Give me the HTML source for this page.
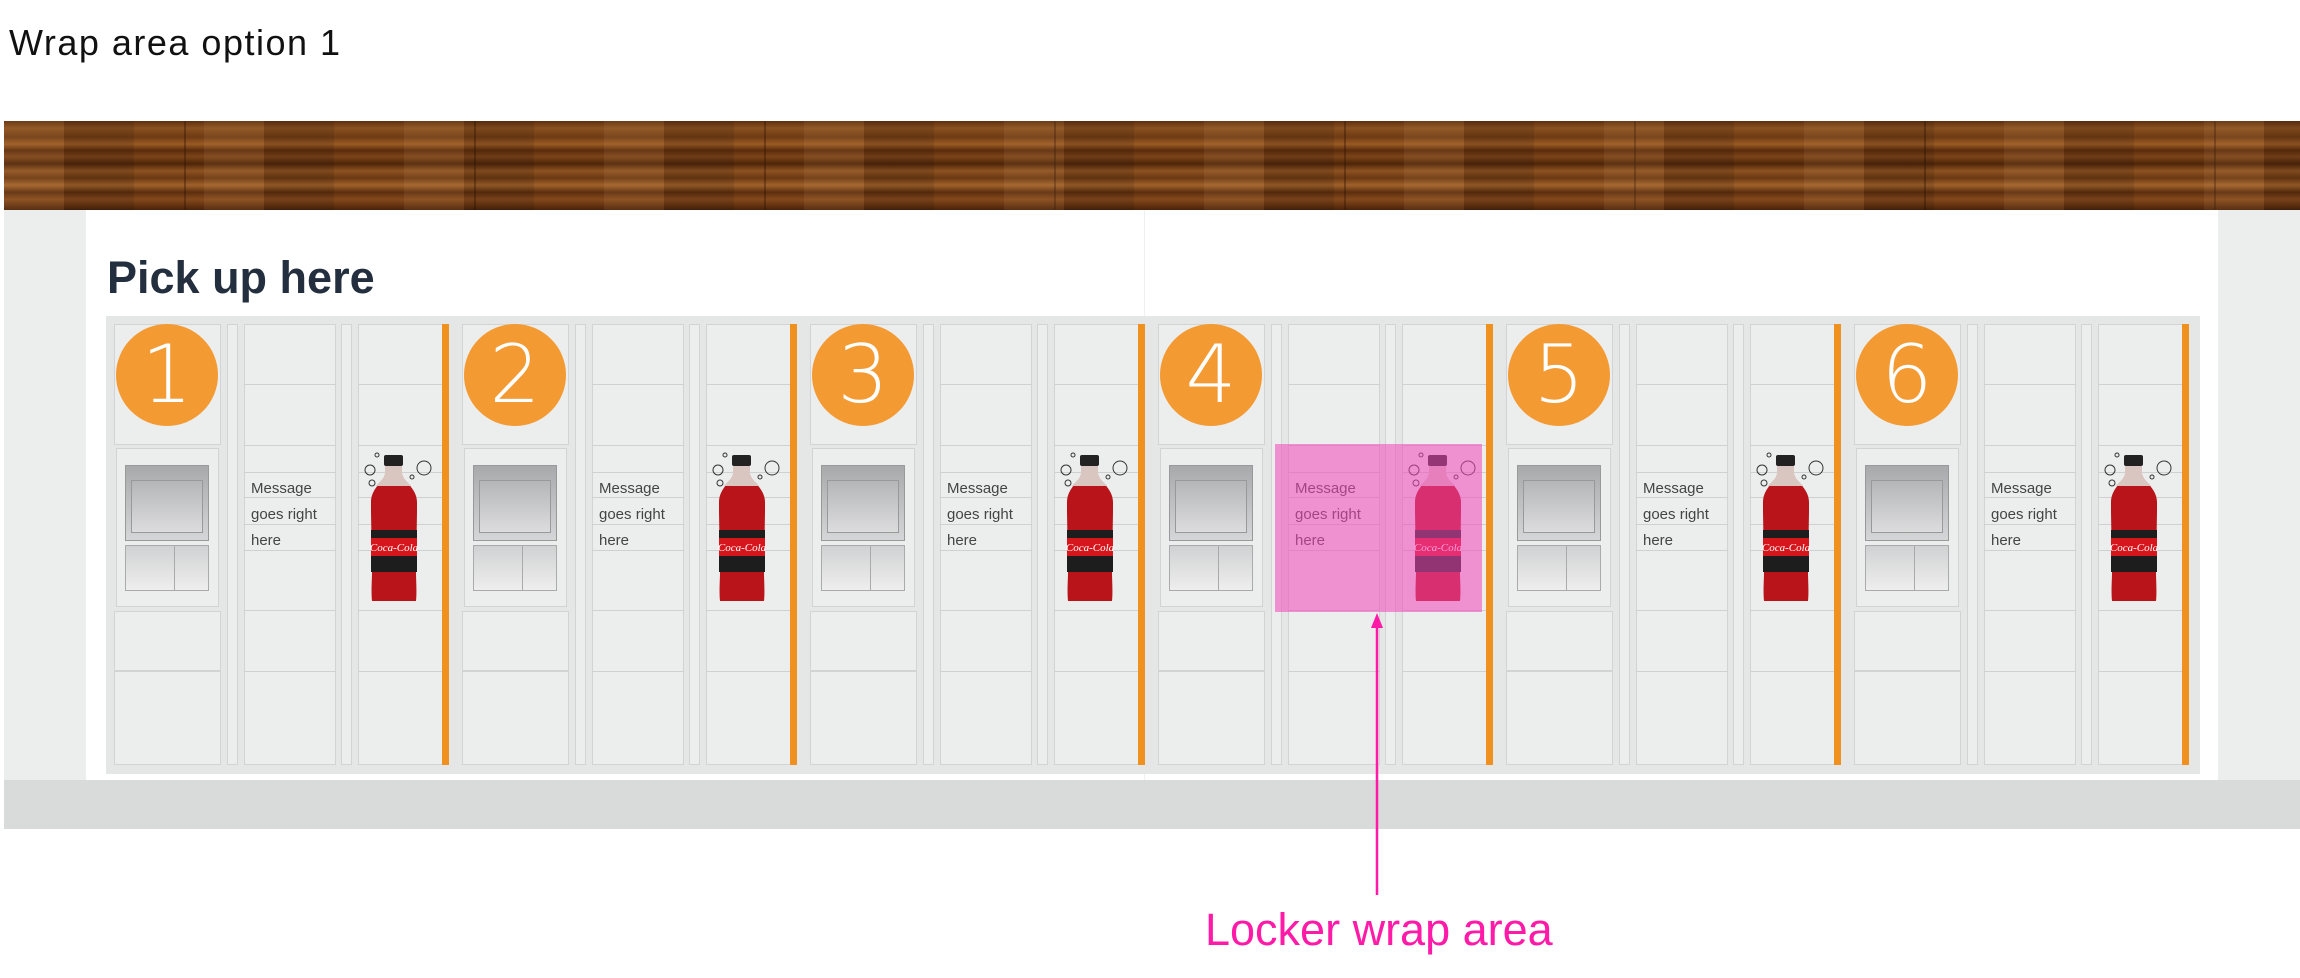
<!DOCTYPE html>
<html><head><meta charset="utf-8"><style>
body{margin:0;width:2300px;height:978px;position:relative;background:#fff;overflow:hidden;font-family:"Liberation Sans",sans-serif}
.a{position:absolute;box-sizing:border-box}
.m{position:absolute;top:0;width:340px;height:800px}
.bx{position:absolute;box-sizing:border-box;border:1.5px solid #d2d4d3;background:#eceeed}
.ln{position:absolute;height:0;border-top:1.5px solid #cfd1d0}
.ob{position:absolute;left:328px;top:324px;width:7px;height:441px;background:#f0911f}
.c{position:absolute;left:2px;top:324px;width:102px;height:102px;border-radius:50%;background:#f39a33;color:#fff;font-size:80px;line-height:102px;text-align:center;font-family:"DejaVu Sans","Liberation Sans",sans-serif;font-weight:200}
.msg{position:absolute;left:137px;font-size:15px;color:#444;line-height:26px;top:476px}
</style></head><body>
<div class="a" style="left:9px;top:22px;font-size:36px;color:#111;letter-spacing:1.5px">Wrap area option 1</div>
<div class="a" style="left:4px;top:210px;width:2296px;height:572px;background:#eceeed"></div>
<div class="a" style="left:86px;top:210px;width:2132px;height:572px;background:#fff"></div>
<div class="a" style="left:1144px;top:210px;width:1px;height:572px;background:#f0f0f0"></div>
<div class="a" style="left:4px;top:780px;width:2296px;height:49px;background:#d9dbda"></div>
<div class="a" style="left:4px;top:121px;width:2296px;height:89px;background:
repeating-linear-gradient(90deg,rgba(0,0,0,0) 0 180px,rgba(40,15,0,.35) 180px 182px,rgba(0,0,0,0) 182px 290px),
linear-gradient(180deg,#5e3010 0,#8a501f 8%,#6e3b14 18%,#9a5a24 26%,#5a2c0c 33%,#7c4418 40%,#4e250a 48%,#8d5220 56%,#6a3812 64%,#a0612a 72%,#5c2e0e 80%,#84491b 88%,#4a2208 100%)"></div>
<div class="a" style="left:4px;top:121px;width:2296px;height:89px;background:repeating-linear-gradient(90deg,rgba(255,200,140,.08) 0 60px,rgba(0,0,0,.1) 60px 130px,rgba(0,0,0,0) 130px 200px)"></div>
<div class="a" style="left:107px;top:252px;font-size:45px;font-weight:bold;color:#232f3e">Pick up here</div>
<div class="a" style="left:106px;top:316px;width:2094px;height:458px;background:#e5e7e6"></div>

<div class="m" style="left:114px">
<div class="bx" style="left:0;top:324px;width:107px;height:121px"></div>
<div class="bx" style="left:2px;top:448px;width:103px;height:159px"></div>
<div class="a" style="left:11px;top:465px;width:84px;height:76px;background:linear-gradient(#a8a9ab,#d5d6d7);border:1px solid #999"></div>
<div class="a" style="left:17px;top:480px;width:72px;height:53px;border:1.5px solid #999;background:linear-gradient(#b5b6b8,#dcdcdd)"></div>
<div class="a" style="left:11px;top:545px;width:84px;height:46px;background:linear-gradient(#d0d1d2,#eeeeee);border:1px solid #aaa"></div>
<div class="a" style="left:60px;top:545px;width:35px;height:46px;border:1px solid #aaa"></div>
<div class="bx" style="left:0;top:611px;width:107px;height:60px"></div>
<div class="bx" style="left:0;top:671px;width:107px;height:94px"></div>
<div class="bx" style="left:113px;top:324px;width:11px;height:441px"></div>
<div class="bx" style="left:130px;top:324px;width:92px;height:441px"></div>
<div class="ln" style="left:130px;top:384px;width:92px"></div><div class="ln" style="left:130px;top:445px;width:92px"></div><div class="ln" style="left:130px;top:472px;width:92px"></div><div class="ln" style="left:130px;top:497px;width:92px"></div><div class="ln" style="left:130px;top:524px;width:92px"></div><div class="ln" style="left:130px;top:550px;width:92px"></div><div class="ln" style="left:130px;top:610px;width:92px"></div><div class="ln" style="left:130px;top:671px;width:92px"></div>
<div class="bx" style="left:227px;top:324px;width:11px;height:441px"></div>
<div class="bx" style="left:244px;top:324px;width:86px;height:441px"></div>
<div class="ln" style="left:244px;top:384px;width:86px"></div><div class="ln" style="left:244px;top:445px;width:86px"></div><div class="ln" style="left:244px;top:472px;width:86px"></div><div class="ln" style="left:244px;top:497px;width:86px"></div><div class="ln" style="left:244px;top:524px;width:86px"></div><div class="ln" style="left:244px;top:550px;width:86px"></div><div class="ln" style="left:244px;top:610px;width:86px"></div><div class="ln" style="left:244px;top:671px;width:86px"></div>
<div class="ob"></div>
<div class="c">1</div>
<div class="msg">Message<br>goes right<br>here</div>
<svg class="a" style="left:248px;top:450px" width="74" height="165" viewBox="0 0 74 165"><circle cx="15" cy="5" r="2" fill="none" stroke="#333"/><circle cx="8" cy="20" r="5" fill="none" stroke="#333"/><circle cx="10" cy="33" r="3" fill="none" stroke="#333"/><circle cx="50" cy="27" r="2" fill="none" stroke="#333"/><circle cx="62" cy="18" r="7" fill="none" stroke="#333"/><rect x="22" y="5" width="19" height="11" rx="2" fill="#222"/><path d="M23 16h17v8c0 6 15 14 15 28v10l-1 60c0 8 1 20 0 29H10c-1-9 0-21 0-29L9 62V52c0-14 14-22 14-28z" fill="#b8141a"/><path d="M23 16h17v8c0 4 6 8 9 12H14c3-4 9-8 9-12z" fill="#d9c6c0"/><rect x="9" y="80" width="46" height="42" fill="#1d1d1d"/><rect x="9" y="88" width="46" height="18" fill="#d5161c"/><text x="32" y="101" font-size="11" font-style="italic" font-family="Liberation Serif,serif" fill="#fff" text-anchor="middle">Coca-Cola</text></svg>
</div>

<div class="m" style="left:462px">
<div class="bx" style="left:0;top:324px;width:107px;height:121px"></div>
<div class="bx" style="left:2px;top:448px;width:103px;height:159px"></div>
<div class="a" style="left:11px;top:465px;width:84px;height:76px;background:linear-gradient(#a8a9ab,#d5d6d7);border:1px solid #999"></div>
<div class="a" style="left:17px;top:480px;width:72px;height:53px;border:1.5px solid #999;background:linear-gradient(#b5b6b8,#dcdcdd)"></div>
<div class="a" style="left:11px;top:545px;width:84px;height:46px;background:linear-gradient(#d0d1d2,#eeeeee);border:1px solid #aaa"></div>
<div class="a" style="left:60px;top:545px;width:35px;height:46px;border:1px solid #aaa"></div>
<div class="bx" style="left:0;top:611px;width:107px;height:60px"></div>
<div class="bx" style="left:0;top:671px;width:107px;height:94px"></div>
<div class="bx" style="left:113px;top:324px;width:11px;height:441px"></div>
<div class="bx" style="left:130px;top:324px;width:92px;height:441px"></div>
<div class="ln" style="left:130px;top:384px;width:92px"></div><div class="ln" style="left:130px;top:445px;width:92px"></div><div class="ln" style="left:130px;top:472px;width:92px"></div><div class="ln" style="left:130px;top:497px;width:92px"></div><div class="ln" style="left:130px;top:524px;width:92px"></div><div class="ln" style="left:130px;top:550px;width:92px"></div><div class="ln" style="left:130px;top:610px;width:92px"></div><div class="ln" style="left:130px;top:671px;width:92px"></div>
<div class="bx" style="left:227px;top:324px;width:11px;height:441px"></div>
<div class="bx" style="left:244px;top:324px;width:86px;height:441px"></div>
<div class="ln" style="left:244px;top:384px;width:86px"></div><div class="ln" style="left:244px;top:445px;width:86px"></div><div class="ln" style="left:244px;top:472px;width:86px"></div><div class="ln" style="left:244px;top:497px;width:86px"></div><div class="ln" style="left:244px;top:524px;width:86px"></div><div class="ln" style="left:244px;top:550px;width:86px"></div><div class="ln" style="left:244px;top:610px;width:86px"></div><div class="ln" style="left:244px;top:671px;width:86px"></div>
<div class="ob"></div>
<div class="c">2</div>
<div class="msg">Message<br>goes right<br>here</div>
<svg class="a" style="left:248px;top:450px" width="74" height="165" viewBox="0 0 74 165"><circle cx="15" cy="5" r="2" fill="none" stroke="#333"/><circle cx="8" cy="20" r="5" fill="none" stroke="#333"/><circle cx="10" cy="33" r="3" fill="none" stroke="#333"/><circle cx="50" cy="27" r="2" fill="none" stroke="#333"/><circle cx="62" cy="18" r="7" fill="none" stroke="#333"/><rect x="22" y="5" width="19" height="11" rx="2" fill="#222"/><path d="M23 16h17v8c0 6 15 14 15 28v10l-1 60c0 8 1 20 0 29H10c-1-9 0-21 0-29L9 62V52c0-14 14-22 14-28z" fill="#b8141a"/><path d="M23 16h17v8c0 4 6 8 9 12H14c3-4 9-8 9-12z" fill="#d9c6c0"/><rect x="9" y="80" width="46" height="42" fill="#1d1d1d"/><rect x="9" y="88" width="46" height="18" fill="#d5161c"/><text x="32" y="101" font-size="11" font-style="italic" font-family="Liberation Serif,serif" fill="#fff" text-anchor="middle">Coca-Cola</text></svg>
</div>

<div class="m" style="left:810px">
<div class="bx" style="left:0;top:324px;width:107px;height:121px"></div>
<div class="bx" style="left:2px;top:448px;width:103px;height:159px"></div>
<div class="a" style="left:11px;top:465px;width:84px;height:76px;background:linear-gradient(#a8a9ab,#d5d6d7);border:1px solid #999"></div>
<div class="a" style="left:17px;top:480px;width:72px;height:53px;border:1.5px solid #999;background:linear-gradient(#b5b6b8,#dcdcdd)"></div>
<div class="a" style="left:11px;top:545px;width:84px;height:46px;background:linear-gradient(#d0d1d2,#eeeeee);border:1px solid #aaa"></div>
<div class="a" style="left:60px;top:545px;width:35px;height:46px;border:1px solid #aaa"></div>
<div class="bx" style="left:0;top:611px;width:107px;height:60px"></div>
<div class="bx" style="left:0;top:671px;width:107px;height:94px"></div>
<div class="bx" style="left:113px;top:324px;width:11px;height:441px"></div>
<div class="bx" style="left:130px;top:324px;width:92px;height:441px"></div>
<div class="ln" style="left:130px;top:384px;width:92px"></div><div class="ln" style="left:130px;top:445px;width:92px"></div><div class="ln" style="left:130px;top:472px;width:92px"></div><div class="ln" style="left:130px;top:497px;width:92px"></div><div class="ln" style="left:130px;top:524px;width:92px"></div><div class="ln" style="left:130px;top:550px;width:92px"></div><div class="ln" style="left:130px;top:610px;width:92px"></div><div class="ln" style="left:130px;top:671px;width:92px"></div>
<div class="bx" style="left:227px;top:324px;width:11px;height:441px"></div>
<div class="bx" style="left:244px;top:324px;width:86px;height:441px"></div>
<div class="ln" style="left:244px;top:384px;width:86px"></div><div class="ln" style="left:244px;top:445px;width:86px"></div><div class="ln" style="left:244px;top:472px;width:86px"></div><div class="ln" style="left:244px;top:497px;width:86px"></div><div class="ln" style="left:244px;top:524px;width:86px"></div><div class="ln" style="left:244px;top:550px;width:86px"></div><div class="ln" style="left:244px;top:610px;width:86px"></div><div class="ln" style="left:244px;top:671px;width:86px"></div>
<div class="ob"></div>
<div class="c">3</div>
<div class="msg">Message<br>goes right<br>here</div>
<svg class="a" style="left:248px;top:450px" width="74" height="165" viewBox="0 0 74 165"><circle cx="15" cy="5" r="2" fill="none" stroke="#333"/><circle cx="8" cy="20" r="5" fill="none" stroke="#333"/><circle cx="10" cy="33" r="3" fill="none" stroke="#333"/><circle cx="50" cy="27" r="2" fill="none" stroke="#333"/><circle cx="62" cy="18" r="7" fill="none" stroke="#333"/><rect x="22" y="5" width="19" height="11" rx="2" fill="#222"/><path d="M23 16h17v8c0 6 15 14 15 28v10l-1 60c0 8 1 20 0 29H10c-1-9 0-21 0-29L9 62V52c0-14 14-22 14-28z" fill="#b8141a"/><path d="M23 16h17v8c0 4 6 8 9 12H14c3-4 9-8 9-12z" fill="#d9c6c0"/><rect x="9" y="80" width="46" height="42" fill="#1d1d1d"/><rect x="9" y="88" width="46" height="18" fill="#d5161c"/><text x="32" y="101" font-size="11" font-style="italic" font-family="Liberation Serif,serif" fill="#fff" text-anchor="middle">Coca-Cola</text></svg>
</div>

<div class="m" style="left:1158px">
<div class="bx" style="left:0;top:324px;width:107px;height:121px"></div>
<div class="bx" style="left:2px;top:448px;width:103px;height:159px"></div>
<div class="a" style="left:11px;top:465px;width:84px;height:76px;background:linear-gradient(#a8a9ab,#d5d6d7);border:1px solid #999"></div>
<div class="a" style="left:17px;top:480px;width:72px;height:53px;border:1.5px solid #999;background:linear-gradient(#b5b6b8,#dcdcdd)"></div>
<div class="a" style="left:11px;top:545px;width:84px;height:46px;background:linear-gradient(#d0d1d2,#eeeeee);border:1px solid #aaa"></div>
<div class="a" style="left:60px;top:545px;width:35px;height:46px;border:1px solid #aaa"></div>
<div class="bx" style="left:0;top:611px;width:107px;height:60px"></div>
<div class="bx" style="left:0;top:671px;width:107px;height:94px"></div>
<div class="bx" style="left:113px;top:324px;width:11px;height:441px"></div>
<div class="bx" style="left:130px;top:324px;width:92px;height:441px"></div>
<div class="ln" style="left:130px;top:384px;width:92px"></div><div class="ln" style="left:130px;top:445px;width:92px"></div><div class="ln" style="left:130px;top:472px;width:92px"></div><div class="ln" style="left:130px;top:497px;width:92px"></div><div class="ln" style="left:130px;top:524px;width:92px"></div><div class="ln" style="left:130px;top:550px;width:92px"></div><div class="ln" style="left:130px;top:610px;width:92px"></div><div class="ln" style="left:130px;top:671px;width:92px"></div>
<div class="bx" style="left:227px;top:324px;width:11px;height:441px"></div>
<div class="bx" style="left:244px;top:324px;width:86px;height:441px"></div>
<div class="ln" style="left:244px;top:384px;width:86px"></div><div class="ln" style="left:244px;top:445px;width:86px"></div><div class="ln" style="left:244px;top:472px;width:86px"></div><div class="ln" style="left:244px;top:497px;width:86px"></div><div class="ln" style="left:244px;top:524px;width:86px"></div><div class="ln" style="left:244px;top:550px;width:86px"></div><div class="ln" style="left:244px;top:610px;width:86px"></div><div class="ln" style="left:244px;top:671px;width:86px"></div>
<div class="ob"></div>
<div class="c">4</div>
<div class="msg">Message<br>goes right<br>here</div>
<svg class="a" style="left:248px;top:450px" width="74" height="165" viewBox="0 0 74 165"><circle cx="15" cy="5" r="2" fill="none" stroke="#333"/><circle cx="8" cy="20" r="5" fill="none" stroke="#333"/><circle cx="10" cy="33" r="3" fill="none" stroke="#333"/><circle cx="50" cy="27" r="2" fill="none" stroke="#333"/><circle cx="62" cy="18" r="7" fill="none" stroke="#333"/><rect x="22" y="5" width="19" height="11" rx="2" fill="#222"/><path d="M23 16h17v8c0 6 15 14 15 28v10l-1 60c0 8 1 20 0 29H10c-1-9 0-21 0-29L9 62V52c0-14 14-22 14-28z" fill="#b8141a"/><path d="M23 16h17v8c0 4 6 8 9 12H14c3-4 9-8 9-12z" fill="#d9c6c0"/><rect x="9" y="80" width="46" height="42" fill="#1d1d1d"/><rect x="9" y="88" width="46" height="18" fill="#d5161c"/><text x="32" y="101" font-size="11" font-style="italic" font-family="Liberation Serif,serif" fill="#fff" text-anchor="middle">Coca-Cola</text></svg>
</div>

<div class="m" style="left:1506px">
<div class="bx" style="left:0;top:324px;width:107px;height:121px"></div>
<div class="bx" style="left:2px;top:448px;width:103px;height:159px"></div>
<div class="a" style="left:11px;top:465px;width:84px;height:76px;background:linear-gradient(#a8a9ab,#d5d6d7);border:1px solid #999"></div>
<div class="a" style="left:17px;top:480px;width:72px;height:53px;border:1.5px solid #999;background:linear-gradient(#b5b6b8,#dcdcdd)"></div>
<div class="a" style="left:11px;top:545px;width:84px;height:46px;background:linear-gradient(#d0d1d2,#eeeeee);border:1px solid #aaa"></div>
<div class="a" style="left:60px;top:545px;width:35px;height:46px;border:1px solid #aaa"></div>
<div class="bx" style="left:0;top:611px;width:107px;height:60px"></div>
<div class="bx" style="left:0;top:671px;width:107px;height:94px"></div>
<div class="bx" style="left:113px;top:324px;width:11px;height:441px"></div>
<div class="bx" style="left:130px;top:324px;width:92px;height:441px"></div>
<div class="ln" style="left:130px;top:384px;width:92px"></div><div class="ln" style="left:130px;top:445px;width:92px"></div><div class="ln" style="left:130px;top:472px;width:92px"></div><div class="ln" style="left:130px;top:497px;width:92px"></div><div class="ln" style="left:130px;top:524px;width:92px"></div><div class="ln" style="left:130px;top:550px;width:92px"></div><div class="ln" style="left:130px;top:610px;width:92px"></div><div class="ln" style="left:130px;top:671px;width:92px"></div>
<div class="bx" style="left:227px;top:324px;width:11px;height:441px"></div>
<div class="bx" style="left:244px;top:324px;width:86px;height:441px"></div>
<div class="ln" style="left:244px;top:384px;width:86px"></div><div class="ln" style="left:244px;top:445px;width:86px"></div><div class="ln" style="left:244px;top:472px;width:86px"></div><div class="ln" style="left:244px;top:497px;width:86px"></div><div class="ln" style="left:244px;top:524px;width:86px"></div><div class="ln" style="left:244px;top:550px;width:86px"></div><div class="ln" style="left:244px;top:610px;width:86px"></div><div class="ln" style="left:244px;top:671px;width:86px"></div>
<div class="ob"></div>
<div class="c">5</div>
<div class="msg">Message<br>goes right<br>here</div>
<svg class="a" style="left:248px;top:450px" width="74" height="165" viewBox="0 0 74 165"><circle cx="15" cy="5" r="2" fill="none" stroke="#333"/><circle cx="8" cy="20" r="5" fill="none" stroke="#333"/><circle cx="10" cy="33" r="3" fill="none" stroke="#333"/><circle cx="50" cy="27" r="2" fill="none" stroke="#333"/><circle cx="62" cy="18" r="7" fill="none" stroke="#333"/><rect x="22" y="5" width="19" height="11" rx="2" fill="#222"/><path d="M23 16h17v8c0 6 15 14 15 28v10l-1 60c0 8 1 20 0 29H10c-1-9 0-21 0-29L9 62V52c0-14 14-22 14-28z" fill="#b8141a"/><path d="M23 16h17v8c0 4 6 8 9 12H14c3-4 9-8 9-12z" fill="#d9c6c0"/><rect x="9" y="80" width="46" height="42" fill="#1d1d1d"/><rect x="9" y="88" width="46" height="18" fill="#d5161c"/><text x="32" y="101" font-size="11" font-style="italic" font-family="Liberation Serif,serif" fill="#fff" text-anchor="middle">Coca-Cola</text></svg>
</div>

<div class="m" style="left:1854px">
<div class="bx" style="left:0;top:324px;width:107px;height:121px"></div>
<div class="bx" style="left:2px;top:448px;width:103px;height:159px"></div>
<div class="a" style="left:11px;top:465px;width:84px;height:76px;background:linear-gradient(#a8a9ab,#d5d6d7);border:1px solid #999"></div>
<div class="a" style="left:17px;top:480px;width:72px;height:53px;border:1.5px solid #999;background:linear-gradient(#b5b6b8,#dcdcdd)"></div>
<div class="a" style="left:11px;top:545px;width:84px;height:46px;background:linear-gradient(#d0d1d2,#eeeeee);border:1px solid #aaa"></div>
<div class="a" style="left:60px;top:545px;width:35px;height:46px;border:1px solid #aaa"></div>
<div class="bx" style="left:0;top:611px;width:107px;height:60px"></div>
<div class="bx" style="left:0;top:671px;width:107px;height:94px"></div>
<div class="bx" style="left:113px;top:324px;width:11px;height:441px"></div>
<div class="bx" style="left:130px;top:324px;width:92px;height:441px"></div>
<div class="ln" style="left:130px;top:384px;width:92px"></div><div class="ln" style="left:130px;top:445px;width:92px"></div><div class="ln" style="left:130px;top:472px;width:92px"></div><div class="ln" style="left:130px;top:497px;width:92px"></div><div class="ln" style="left:130px;top:524px;width:92px"></div><div class="ln" style="left:130px;top:550px;width:92px"></div><div class="ln" style="left:130px;top:610px;width:92px"></div><div class="ln" style="left:130px;top:671px;width:92px"></div>
<div class="bx" style="left:227px;top:324px;width:11px;height:441px"></div>
<div class="bx" style="left:244px;top:324px;width:86px;height:441px"></div>
<div class="ln" style="left:244px;top:384px;width:86px"></div><div class="ln" style="left:244px;top:445px;width:86px"></div><div class="ln" style="left:244px;top:472px;width:86px"></div><div class="ln" style="left:244px;top:497px;width:86px"></div><div class="ln" style="left:244px;top:524px;width:86px"></div><div class="ln" style="left:244px;top:550px;width:86px"></div><div class="ln" style="left:244px;top:610px;width:86px"></div><div class="ln" style="left:244px;top:671px;width:86px"></div>
<div class="ob"></div>
<div class="c">6</div>
<div class="msg">Message<br>goes right<br>here</div>
<svg class="a" style="left:248px;top:450px" width="74" height="165" viewBox="0 0 74 165"><circle cx="15" cy="5" r="2" fill="none" stroke="#333"/><circle cx="8" cy="20" r="5" fill="none" stroke="#333"/><circle cx="10" cy="33" r="3" fill="none" stroke="#333"/><circle cx="50" cy="27" r="2" fill="none" stroke="#333"/><circle cx="62" cy="18" r="7" fill="none" stroke="#333"/><rect x="22" y="5" width="19" height="11" rx="2" fill="#222"/><path d="M23 16h17v8c0 6 15 14 15 28v10l-1 60c0 8 1 20 0 29H10c-1-9 0-21 0-29L9 62V52c0-14 14-22 14-28z" fill="#b8141a"/><path d="M23 16h17v8c0 4 6 8 9 12H14c3-4 9-8 9-12z" fill="#d9c6c0"/><rect x="9" y="80" width="46" height="42" fill="#1d1d1d"/><rect x="9" y="88" width="46" height="18" fill="#d5161c"/><text x="32" y="101" font-size="11" font-style="italic" font-family="Liberation Serif,serif" fill="#fff" text-anchor="middle">Coca-Cola</text></svg>
</div>

<div class="a" style="left:1275px;top:444px;width:207px;height:168px;background:rgba(242,70,185,.55)"></div>
<svg class="a" style="left:0;top:0" width="2300" height="978"><line x1="1377" y1="625" x2="1377" y2="895" stroke="#ff1aa8" stroke-width="2.5"/><polygon points="1377,613 1371,628 1383,628" fill="#ff1aa8"/></svg>
<div class="a" style="left:1205px;top:904px;font-size:45px;color:#ff1aa8">Locker wrap area</div>
</body></html>
